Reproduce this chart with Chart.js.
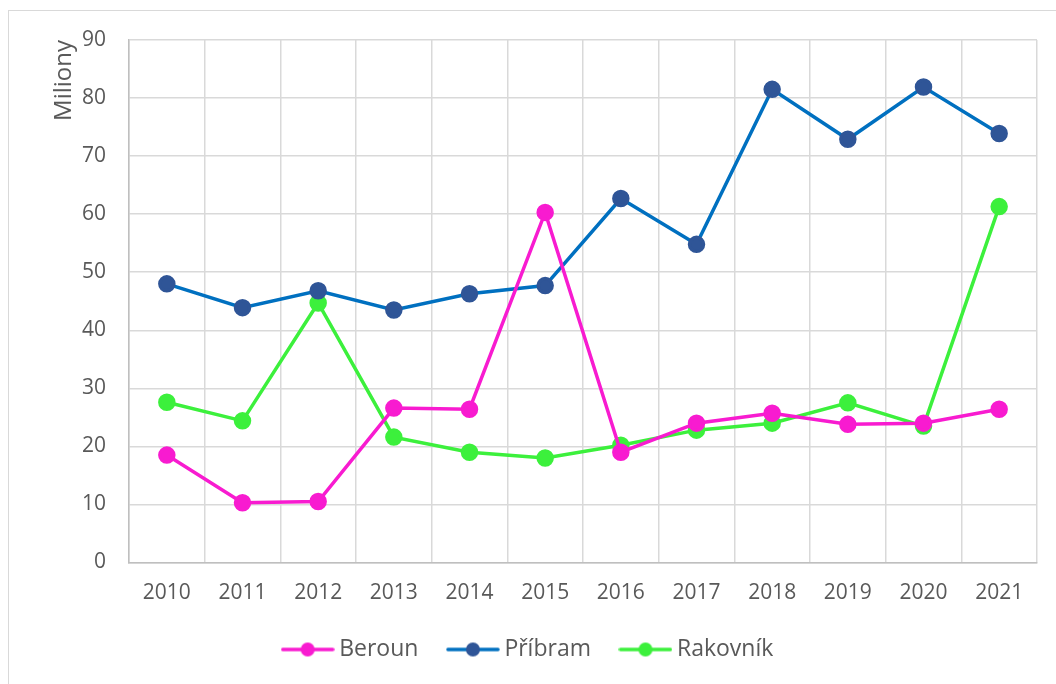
<!DOCTYPE html>
<html lang="cs">
<head>
    <meta charset="UTF-8">
    <title>Miliony 2010-2021</title>
    <script src="https://cdn.jsdelivr.net/npm/chart.js"></script>
    <style>
        body {
            margin: 0;
            background: #ffffff;
            overflow: hidden;
        }
        .frame {
            position: absolute;
            left: 8px;
            top: 10px;
            width: 1100px;
            height: 720px;
            border: 1.5px solid #d9d9d9;
        }
        .chart-container {
            position: absolute;
            left: 0;
            top: 0;
            width: 1056px;
            height: 684px;
        }
    </style>
</head>
<body>

<div class="frame"></div>
<div class="chart-container">
    <canvas id="lineChart" width="1056" height="684"></canvas>
</div>

<script>
    // Data
    const years = ['2010', '2011', '2012', '2013', '2014', '2015', '2016', '2017', '2018', '2019', '2020', '2021'];
    const beroun = [18.5, 10.3, 10.5, 26.6, 26.4, 60.3, 19.0, 24.0, 25.7, 23.8, 24.0, 26.4];
    const pribram = [48.0, 43.9, 46.8, 43.5, 46.3, 47.7, 62.7, 54.8, 81.5, 72.9, 81.9, 73.9];
    const rakovnik = [27.6, 24.4, 44.7, 21.6, 19.0, 18.0, 20.2, 22.8, 24.0, 27.5, 23.5, 61.3];
    const yTicks = [0, 10, 20, 30, 40, 50, 60, 70, 80, 90];

    const textColor = '#595959';
    const gridColor = '#d9d9d9';

    // small legend symbol: line with a dot in the middle
    function legendSymbol(lineColor, dotColor) {
        const c = document.createElement('canvas');
        c.width = 54;
        c.height = 16;
        const g = c.getContext('2d');
        g.strokeStyle = lineColor;
        g.lineWidth = 3.5;
        g.lineCap = 'round';
        g.beginPath();
        g.moveTo(2, 8);
        g.lineTo(52, 8);
        g.stroke();
        g.fillStyle = dotColor;
        g.beginPath();
        g.arc(27, 8, 7, 0, Math.PI * 2);
        g.fill();
        return c;
    }

    function series(label, values, lineColor, dotColor) {
        return {
            label: label,
            data: values,
            borderColor: lineColor,
            backgroundColor: dotColor,
            pointBackgroundColor: dotColor,
            pointBorderColor: dotColor,
            pointRadius: 7,
            pointHoverRadius: 7,
            borderWidth: 3.5,
            tension: 0,
            pointStyle: 'circle',
            legendSymbol: legendSymbol(lineColor, dotColor)
        };
    }

    // nudge the legend a bit to the left, like in the original
    const legendShift = {
        id: 'legendShift',
        afterLayout: chart => {
            chart.legend.left -= 13;
            chart.legend.right -= 13;
        }
    };

    const ctx = document.getElementById('lineChart').getContext('2d');
    new Chart(ctx, {
        type: 'line',
        data: {
            labels: years,
            datasets: [
                series('Beroun', beroun, '#F81BD0', '#F81BD0'),
                series('Příbram', pribram, '#0070C0', '#2F5597'),
                series('Rakovník', rakovnik, '#3CF03C', '#3CF03C')
            ]
        },
        plugins: [legendShift],
        options: {
            responsive: false,
            animation: false,
            layout: {
                padding: { left: 50, top: 40, right: 19, bottom: 13 }
            },
            plugins: {
                tooltip: { enabled: false },
                legend: {
                    position: 'bottom',
                    labels: {
                        usePointStyle: true,
                        pointStyleWidth: 40,
                        padding: 34.5,
                        color: textColor,
                        font: { family: 'Open Sans', size: 23 },
                        generateLabels: chart => chart.data.datasets.map((ds, i) => ({
                            text: ds.label,
                            pointStyle: ds.legendSymbol,
                            fontColor: textColor,
                            lineWidth: 0,
                            datasetIndex: i
                        }))
                    }
                }
            },
            scales: {
                x: {
                    offset: true,
                    grid: {
                        offset: true,
                        color: gridColor,
                        lineWidth: 1.5,
                        drawTicks: false
                    },
                    border: { color: '#bfbfbf', width: 1.5 },
                    ticks: {
                        color: textColor,
                        padding: 18,
                        font: { family: 'Open Sans', size: 21 }
                    },
                    afterFit: scale => { scale.height = 41; }
                },
                y: {
                    min: 0,
                    max: 90,
                    afterBuildTicks: scale => {
                        scale.ticks = yTicks.map(v => ({ value: v }));
                    },
                    grid: {
                        color: gridColor,
                        lineWidth: 1.5,
                        drawTicks: false
                    },
                    border: { color: '#bfbfbf', width: 1.5 },
                    ticks: {
                        color: textColor,
                        padding: 23,
                        font: { family: 'Open Sans', size: 21 }
                    },
                    title: {
                        display: true,
                        text: 'Miliony',
                        align: 'end',
                        color: textColor,
                        font: { family: 'Open Sans', size: 24 },
                        padding: { top: 0, bottom: 0 }
                    },
                    afterFit: scale => { scale.width = 79; }
                }
            }
        }
    });
</script>

</body>
</html>
